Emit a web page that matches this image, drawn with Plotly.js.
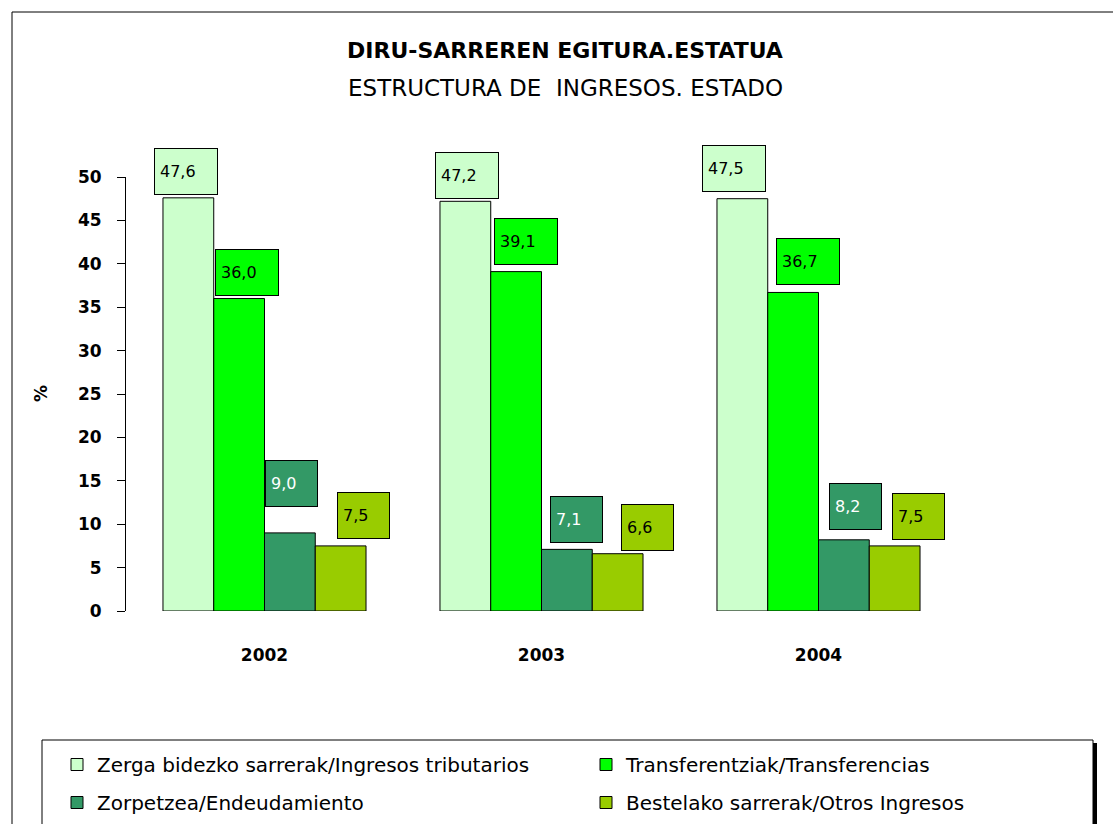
<!DOCTYPE html>
<html>
<head>
<meta charset="utf-8">
<script src="https://cdn.plot.ly/plotly-3.0.1.min.js"></script>
<style>
html,body{margin:0;padding:0;background:#fff;}
#chart{width:1113px;height:824px;}
</style>
</head>
<body>
<div id="chart"></div>
<script>
// ---- data ----
const years = ['2002', '2003', '2004'];
const seriesNames = [
  'Zerga bidezko sarrerak/Ingresos tributarios',
  'Transferentziak/Transferencias',
  'Zorpetzea/Endeudamiento',
  'Bestelako sarrerak/Otros Ingresos'
];
const tributarios = [47.6, 47.2, 47.5];
const transferencias = [36.0, 39.1, 36.7];
const endeudamiento = [9.0, 7.1, 8.2];
const otros = [7.5, 6.6, 7.5];
const yTicks = [0, 5, 10, 15, 20, 25, 30, 35, 40, 45, 50];
const titleLine1 = 'DIRU-SARREREN EGITURA.ESTATUA';
const titleLine2 = 'ESTRUCTURA DE\u00a0 INGRESOS. ESTADO';
const yTitle = '%';

// ---- style ----
const colors = ['#CCFFCC', '#00FF00', '#339966', '#99CC00'];
const labelTextColors = ['#000000', '#000000', '#FFFFFF', '#000000'];
const FONT = '"DejaVu Sans", "Open Sans", sans-serif';
const margin = {l: 126, r: 156, t: 177, b: 213, autoexpand: false};
const W = 1113, H = 824;
const plotW = W - margin.l - margin.r, plotH = H - margin.t - margin.b;
const px2x = px => (px - margin.l) / plotW;
const px2y = py => (H - margin.b - py) / plotH;
const cx = px => px / W;
const cy = py => 1 - py / H;
const bargap = 0.267;
const barW = (1 - bargap) / 4;
// hand-placed label box offsets (pixels) relative to each bar's top centre [series][year]
const labelDx = [[-2, 2, -8], [8, 10, 15], [2, 10, 12], [23, 30, 24]];
const labelDy = [[26, 26, 30], [26, 30, 31], [49, 30, 33], [30, 26, 29]];

const seriesValues = [tributarios, transferencias, endeudamiento, otros];
const legendFor = ['legend', 'legend2', 'legend', 'legend2'];

const traces = seriesValues.map((vals, j) => ({
  type: 'bar',
  name: seriesNames[j],
  x: years,
  y: vals,
  marker: {color: colors[j], line: {color: '#000000', width: 1}},
  legend: legendFor[j],
  legendgroup: 'g' + j,
  hoverinfo: 'x+y+name'
}));

const fmt = v => v.toFixed(1).replace('.', ',');
const annotations = [];
seriesValues.forEach((vals, j) => {
  vals.forEach((v, i) => {
    const t = fmt(v);
    annotations.push({
      x: i + (j - 1.5) * barW,
      y: v,
      xref: 'x', yref: 'y',
      text: t,
      showarrow: false,
      xanchor: 'center', yanchor: 'middle',
      xshift: labelDx[j][i],
      yshift: labelDy[j][i],
      align: 'left',
      width: t.length >= 4 ? 52 : 41,
      height: 35,
      borderpad: 5,
      bgcolor: colors[j],
      bordercolor: '#000000',
      borderwidth: 1,
      font: {family: FONT, size: 16, color: labelTextColors[j]}
    });
  });
});
// second title line
annotations.push({
  xref: 'paper', yref: 'paper',
  x: px2x(565), y: px2y(88),
  xanchor: 'center', yanchor: 'middle',
  text: titleLine2, showarrow: false,
  font: {family: FONT, size: 23, color: '#000000'}
});
// y-axis title
annotations.push({
  xref: 'paper', yref: 'paper',
  x: px2x(41), y: 0.5,
  xanchor: 'center', yanchor: 'middle',
  textangle: -90,
  text: '<b>' + yTitle + '</b>', showarrow: false,
  font: {family: FONT, size: 17, color: '#000000'}
});

const shapes = [
  // outer chart border
  {type: 'rect', xref: 'paper', yref: 'paper', x0: px2x(12), x1: px2x(1130), y0: px2y(12), y1: px2y(840),
   line: {color: '#000000', width: 1}, fillcolor: 'rgba(0,0,0,0)', layer: 'below'},
  // legend box
  {type: 'rect', xref: 'paper', yref: 'paper', x0: px2x(42), x1: px2x(1093), y0: px2y(740), y1: px2y(840),
   line: {color: '#000000', width: 1}, fillcolor: '#FFFFFF', layer: 'below'},
  // legend shadow
  {type: 'rect', xref: 'paper', yref: 'paper', x0: px2x(1093), x1: px2x(1097), y0: px2y(743), y1: px2y(840),
   line: {width: 0}, fillcolor: '#000000', layer: 'below'}
];

const legendCommon = {
  orientation: 'v',
  xref: 'container', yref: 'container',
  xanchor: 'left', yanchor: 'top',
  bgcolor: 'rgba(0,0,0,0)',
  borderwidth: 0,
  tracegroupgap: 9,
  itemclick: false, itemdoubleclick: false,
  font: {family: FONT, size: 20, color: '#000000'}
};

const layout = {
  width: W, height: H,
  margin: margin,
  paper_bgcolor: '#FFFFFF',
  plot_bgcolor: '#FFFFFF',
  font: {family: FONT, color: '#000000'},
  title: {
    text: '<b>' + titleLine1 + '</b>',
    xref: 'container', yref: 'container',
    x: cx(565), y: cy(50),
    xanchor: 'center', yanchor: 'middle',
    font: {family: FONT, size: 22, color: '#000000'}
  },
  barmode: 'group',
  bargap: bargap,
  bargroupgap: 0,
  showlegend: true,
  legend: Object.assign({}, legendCommon, {x: cx(57), y: cy(745)}),
  legend2: Object.assign({}, legendCommon, {x: cx(586), y: cy(745)}),
  xaxis: {
    type: 'category',
    showline: false,
    showgrid: false,
    zeroline: false,
    ticks: '',
    tickangle: 0,
    ticklabelstandoff: 32,
    tickfont: {family: FONT, size: 17, color: '#000000', weight: 'bold'},
    fixedrange: true
  },
  yaxis: {
    range: [0, 50],
    tickvals: yTicks,
    ticktext: yTicks.map(String),
    showline: true,
    linecolor: '#000000',
    linewidth: 1,
    showgrid: false,
    zeroline: false,
    ticks: 'outside',
    ticklen: 8,
    tickcolor: '#000000',
    ticklabelstandoff: 12,
    tickfont: {family: FONT, size: 17, color: '#000000', weight: 'bold'},
    fixedrange: true
  },
  annotations: annotations,
  shapes: shapes
};

Plotly.newPlot('chart', traces, layout, {displayModeBar: false});
</script>
</body>
</html>
